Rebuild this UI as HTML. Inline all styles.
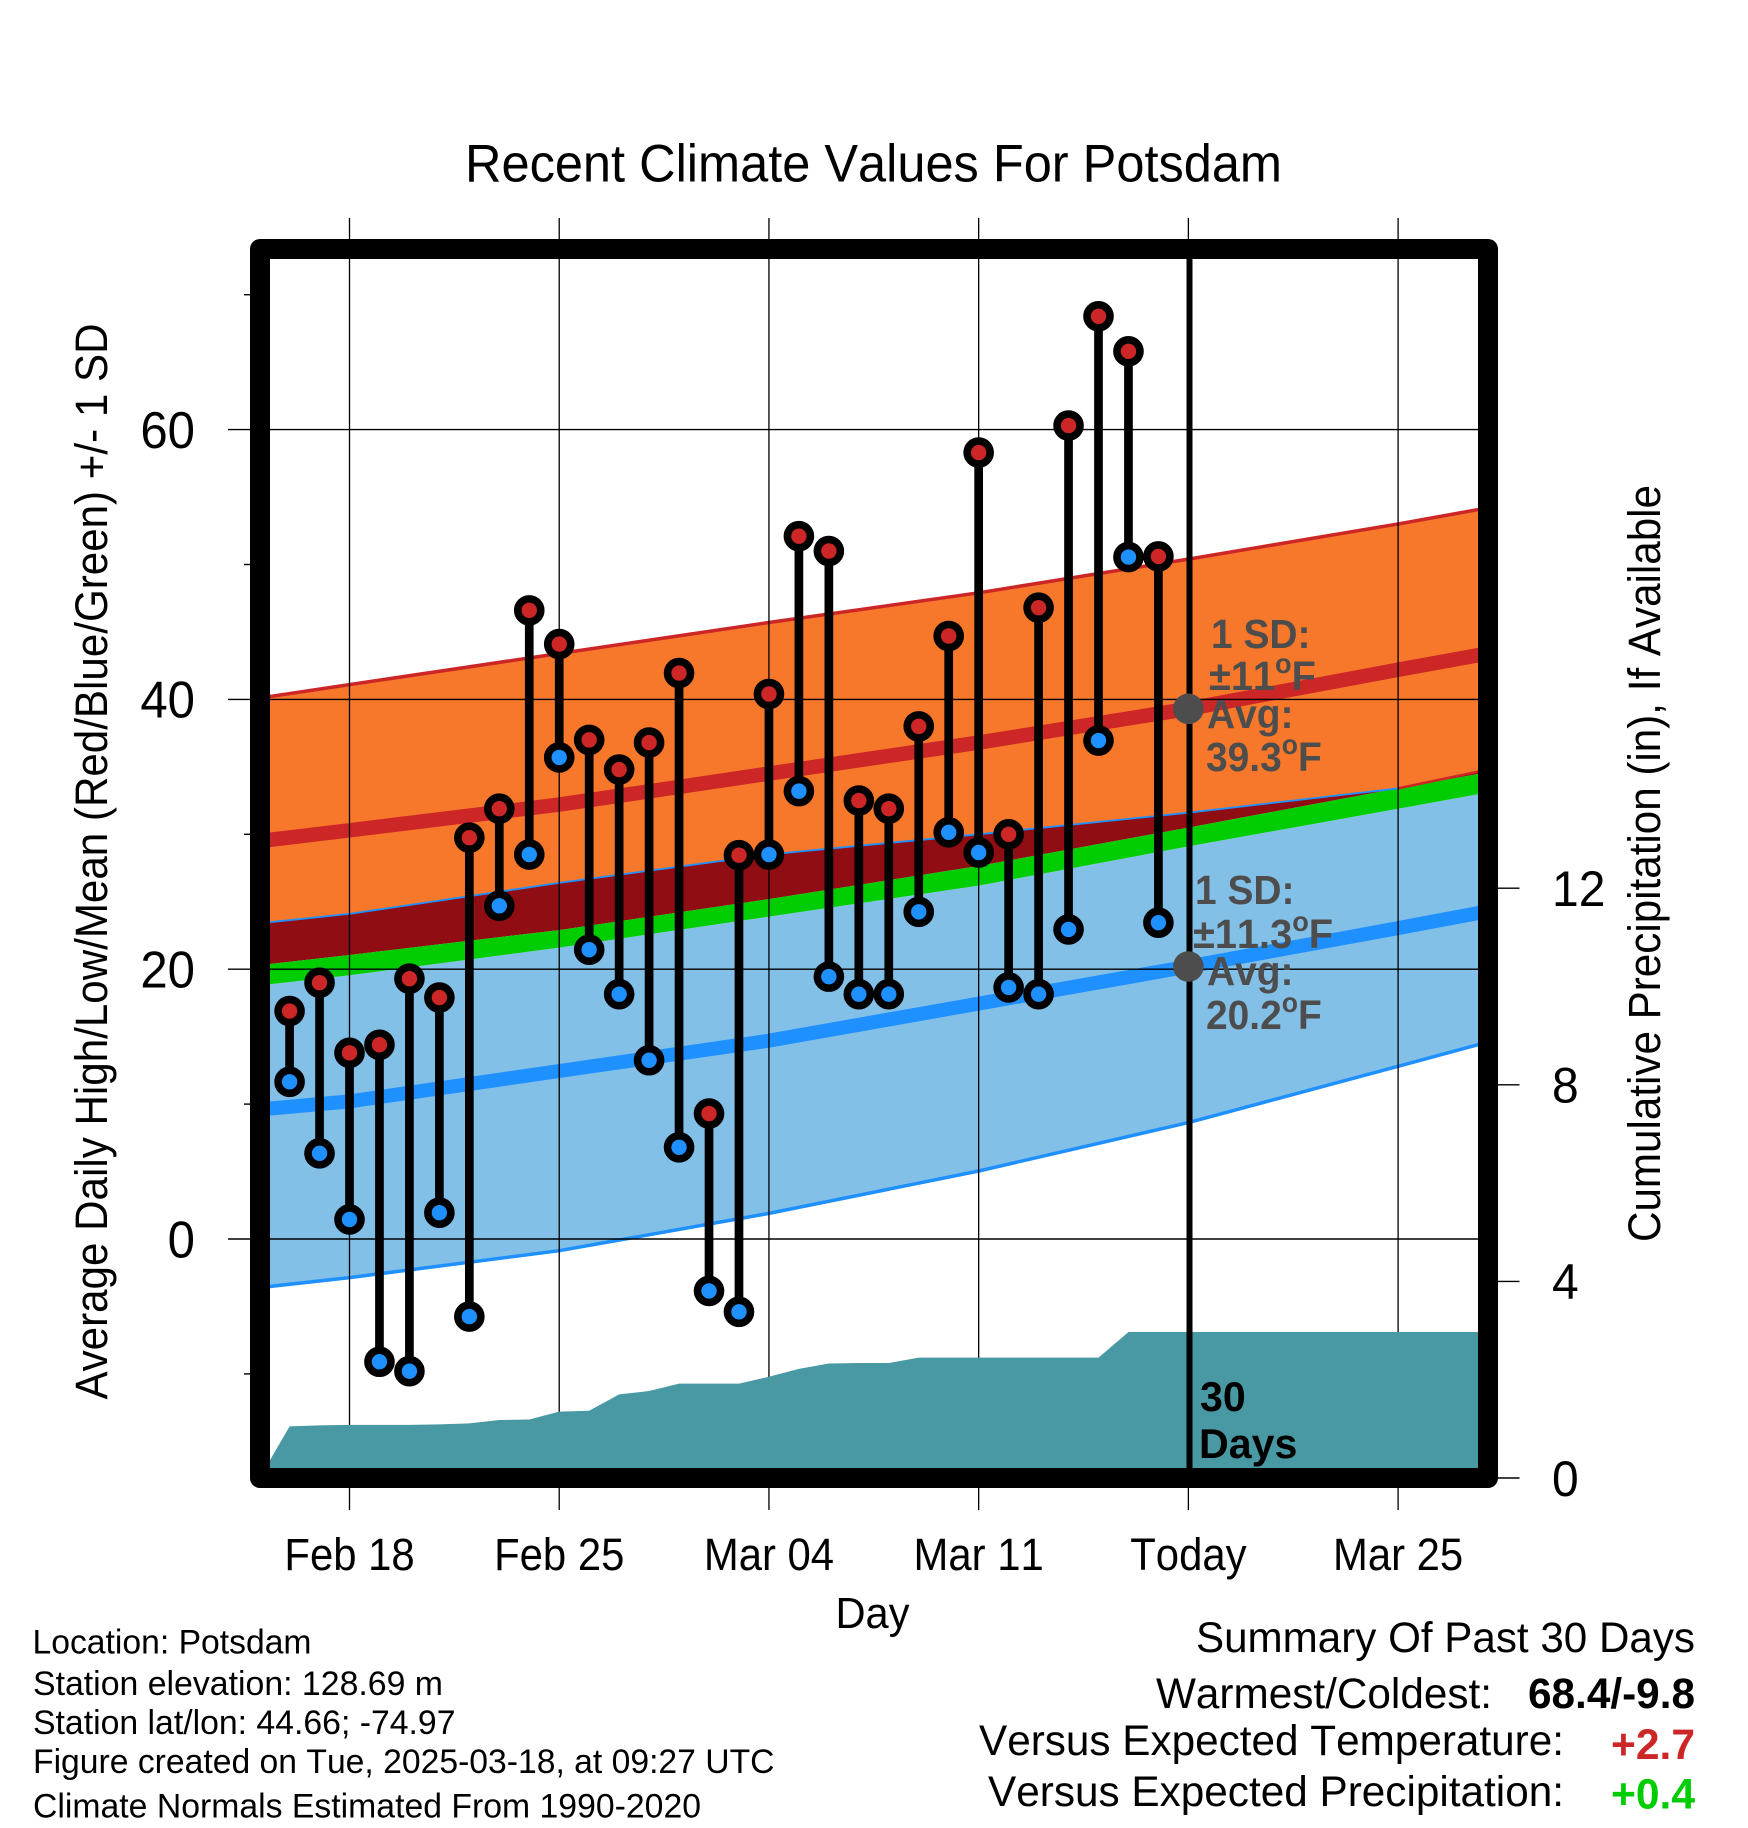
<!DOCTYPE html>
<html lang="en">
<head>
<meta charset="utf-8">
<title>Recent Climate Values For Potsdam</title>
<style>
html,body{margin:0;padding:0;background:#fff;}
svg{display:block;font-family:"Liberation Sans",sans-serif;font-kerning:none;}
</style>
</head>
<body>
<svg id="chart" xmlns="http://www.w3.org/2000/svg" width="1748" height="1828" viewBox="0 0 1748 1828">
  <defs>
    <clipPath id="plot-clip"><rect x="270" y="259" width="1208" height="1209"/></clipPath>
  </defs>
  <rect x="0" y="0" width="1748" height="1828" fill="#ffffff"/>
  <g id="bands" clip-path="url(#plot-clip)"></g>
  <g id="grid"></g>
  <g id="precip" clip-path="url(#plot-clip)"></g>
  <line x1="1189.5" y1="259" x2="1189.5" y2="1468" stroke="#000" stroke-width="6"/>
  <g id="marks"></g>
  <g id="normals"></g>

  <g fill="#4d4d4d" font-weight="bold" font-size="41">
    <text transform="translate(1211,648) scale(.95,1)">1 SD:</text>
    <text transform="translate(1209,690) scale(.97,1)">±11<tspan font-size="28" dy="-17">o</tspan><tspan dy="17">F</tspan></text>
    <text transform="translate(1207,728) scale(.95,1)">Avg:</text>
    <text transform="translate(1206,771) scale(.95,1)">39.3<tspan font-size="28" dy="-17">o</tspan><tspan dy="17">F</tspan></text>
  </g>
  <g fill="#4d4d4d" font-weight="bold" font-size="41">
    <text transform="translate(1195,904) scale(.95,1)">1 SD:</text>
    <text transform="translate(1193,948) scale(.97,1)">±11.3<tspan font-size="28" dy="-17">o</tspan><tspan dy="17">F</tspan></text>
    <text transform="translate(1207,985) scale(.95,1)">Avg:</text>
    <text transform="translate(1206,1029) scale(.95,1)">20.2<tspan font-size="28" dy="-17">o</tspan><tspan dy="17">F</tspan></text>
  </g>
  <text transform="translate(1200,1411) scale(.98,1)" font-size="42" font-weight="bold" fill="#000">30</text>
  <text transform="translate(1199,1458) scale(.98,1)" font-size="42" font-weight="bold" fill="#000">Days</text>

  <rect x="260" y="249" width="1228" height="1229" fill="none" stroke="#000" stroke-width="20" stroke-linejoin="round"/>
  <g id="labels"></g>

  <text x="873.5" y="181.5" font-size="53" text-anchor="middle" textLength="817" lengthAdjust="spacingAndGlyphs">Recent Climate Values For Potsdam</text>
  <text x="872.5" y="1628" font-size="44" text-anchor="middle" textLength="74" lengthAdjust="spacingAndGlyphs">Day</text>
  <text transform="translate(107,861.5) rotate(-90)" font-size="45" text-anchor="middle" textLength="1076" lengthAdjust="spacingAndGlyphs">Average Daily High/Low/Mean (Red/Blue/Green) +/- 1 SD</text>
  <text transform="translate(1660,863.5) rotate(-90)" font-size="45" text-anchor="middle" textLength="757" lengthAdjust="spacingAndGlyphs">Cumulative Precipitation (in), If Available</text>

  <g font-size="34.5" fill="#000">
    <text x="32.5" y="1653.5" textLength="279" lengthAdjust="spacingAndGlyphs">Location: Potsdam</text>
    <text x="33" y="1695" textLength="410" lengthAdjust="spacingAndGlyphs">Station elevation: 128.69 m</text>
    <text x="33" y="1734" textLength="422.5" lengthAdjust="spacingAndGlyphs">Station lat/lon: 44.66; -74.97</text>
    <text x="33" y="1773" textLength="741.5" lengthAdjust="spacingAndGlyphs">Figure created on Tue, 2025-03-18, at 09:27 UTC</text>
    <text x="33" y="1817.5" textLength="668" lengthAdjust="spacingAndGlyphs">Climate Normals Estimated From 1990-2020</text>
  </g>

  <g font-size="43" fill="#000">
    <text x="1196" y="1652" textLength="499" lengthAdjust="spacingAndGlyphs">Summary Of Past 30 Days</text>
    <text x="1156" y="1708" textLength="336" lengthAdjust="spacingAndGlyphs">Warmest/Coldest:</text>
    <text x="1528" y="1708" font-weight="bold" textLength="167" lengthAdjust="spacingAndGlyphs">68.4/-9.8</text>
    <text x="979" y="1755" textLength="585" lengthAdjust="spacingAndGlyphs">Versus Expected Temperature:</text>
    <text x="1611" y="1759" font-weight="bold" fill="#cd2626" textLength="84" lengthAdjust="spacingAndGlyphs">+2.7</text>
    <text x="988" y="1806" textLength="576" lengthAdjust="spacingAndGlyphs">Versus Expected Precipitation:</text>
    <text x="1611" y="1808.5" font-weight="bold" fill="#00cd00" textLength="84" lengthAdjust="spacingAndGlyphs">+0.4</text>
  </g>
</svg>
<script>
// ---- data ----
var days = [-2,-1,0,1,2,3,4,5,6,7,8,9,10,11,12,13,14,15,16,17,18,19,20,21,22,23,24,25,26,27];
var dailyHigh = [16.9,19.0,13.8,14.4,19.3,17.9,29.75,31.9,46.6,44.1,37.0,34.8,36.8,41.95,9.3,28.45,40.4,52.1,51.0,32.5,31.9,38.0,44.7,58.3,30.0,46.8,60.3,68.4,65.8,50.6];
var dailyLow = [11.65,6.35,1.45,-9.1,-9.8,1.95,-5.75,24.7,28.5,35.7,21.45,18.15,13.25,6.8,-3.85,-5.4,28.5,33.2,19.45,18.15,18.15,24.25,30.15,28.65,18.65,18.15,22.95,36.95,50.55,23.45];

var bandDays = [-3,0,7,14,21,28,35,38];
var highUpper = [40.1,41.1,43.4,45.7,47.9,50.4,53.0,54.2];
var highMean = [29.5,30.3,32.2,34.5,36.8,39.3,42.2,43.4];
var orangeLower = [23.4,24.1,26.4,28.5,30.0,31.6,33.4,34.8];
var greenUpper = [20.3,21.05,22.9,25.2,27.65,30.5,33.4,34.6];
var greenLower = [18.8,19.55,21.6,23.9,26.2,29.1,31.9,33.1];
var lowMean = [9.6,10.2,12.45,14.7,17.45,20.2,23.05,24.3];
var lowLower = [-3.6,-2.86,-0.87,1.9,5.04,8.63,12.8,14.6];

var precipDays = [-3,-2,-1,0,1,2,3,4,5,6,7,8,9,10,11,12,13,14,15,16,17,18,19,20,21,22,23,24,25,26,27,28,38];
var precipTotal = [0,1.05,1.07,1.08,1.08,1.08,1.09,1.11,1.18,1.19,1.35,1.37,1.70,1.77,1.92,1.92,1.92,2.06,2.22,2.33,2.34,2.34,2.45,2.45,2.45,2.45,2.45,2.45,2.45,2.97,2.97,2.97,2.97];

var xTickDays = [0,7,14,21,28,35];
var xTickLabels = ['Feb 18','Feb 25','Mar 04','Mar 11','Today','Mar 25'];
var yMajorTicks = [0,20,40,60];
var yMinorTicks = [-10,10,30,50,70];
var precipTicks = [0,4,8,12];
var todayDay = 28;
var todayHighNormal = 39.3;
var todayLowNormal = 20.2;

// ---- axes ----
function xAt(d){ return 349.5 + d * 29.96; }
function yAt(v){ return 1239 - v * 13.49; }
function pAt(v){ return 1478 - v * 49.15; }

var NS = 'http://www.w3.org/2000/svg';
function make(tag, parent){
  var el = document.createElementNS(NS, tag);
  parent.appendChild(el);
  return el;
}
function linePath(xs, ys){
  var d = '';
  for (var i = 0; i < xs.length; i++) {
    d += (i ? 'L' : 'M') + xAt(xs[i]).toFixed(1) + ' ' + yAt(ys[i]).toFixed(1);
  }
  return d;
}
function areaPath(xs, top, bottom){
  var d = linePath(xs, top);
  for (var i = xs.length - 1; i >= 0; i--) {
    d += 'L' + xAt(xs[i]).toFixed(1) + ' ' + yAt(bottom[i]).toFixed(1);
  }
  return d + 'Z';
}

var bands = document.getElementById('bands');
var grid = document.getElementById('grid');
var precip = document.getElementById('precip');
var marks = document.getElementById('marks');
var normals = document.getElementById('normals');
var labels = document.getElementById('labels');

// ---- bands ----
var orange = make('path', bands);


orange.setAttribute('d', areaPath(bandDays, highUpper, orangeLower));
orange.setAttribute('fill', '#f7782b');

var overlap = make('path', bands);


overlap.setAttribute('d', areaPath(bandDays, orangeLower, greenUpper));
overlap.setAttribute('fill', '#8f0d13');

var sky = make('path', bands);


sky.setAttribute('d', areaPath(bandDays, greenLower, lowLower));
sky.setAttribute('fill', '#83c0e8');

var green = make('path', bands);


green.setAttribute('d', areaPath(bandDays, greenUpper, greenLower));
green.setAttribute('fill', '#00cd00');

var highTop = make('path', bands);


highTop.setAttribute('d', linePath(bandDays, highUpper));
highTop.setAttribute('fill', 'none');
highTop.setAttribute('stroke', '#cd2626');
highTop.setAttribute('stroke-width', '3.5');

var highLine = make('path', bands);


highLine.setAttribute('d', linePath(bandDays, highMean));
highLine.setAttribute('fill', 'none');
highLine.setAttribute('stroke', '#cd2626');
highLine.setAttribute('stroke-width', '14.5');

var lowLine = make('path', bands);


lowLine.setAttribute('d', linePath(bandDays, lowMean));
lowLine.setAttribute('fill', 'none');
lowLine.setAttribute('stroke', '#1e90ff');
lowLine.setAttribute('stroke-width', '14');

var lowBottom = make('path', bands);


lowBottom.setAttribute('d', linePath(bandDays, lowLower));
lowBottom.setAttribute('fill', 'none');
lowBottom.setAttribute('stroke', '#1e90ff');
lowBottom.setAttribute('stroke-width', '3.5');

var lowTop = make('path', bands);


lowTop.setAttribute('d', linePath(bandDays.slice(0, 7), orangeLower.slice(0, 7)));
lowTop.setAttribute('fill', 'none');
lowTop.setAttribute('stroke', '#1e90ff');
lowTop.setAttribute('stroke-width', '1.8');

var highBottom = make('path', bands);


highBottom.setAttribute('d', linePath(bandDays.slice(6), orangeLower.slice(6)));
highBottom.setAttribute('fill', 'none');
highBottom.setAttribute('stroke', '#cd2626');
highBottom.setAttribute('stroke-width', '2.5');

// ---- grid and ticks ----
xTickDays.forEach(function(d, i){
  var gl = make('line', grid);
  
  
  gl.setAttribute('x1', xAt(d));
  gl.setAttribute('x2', xAt(d));
  gl.setAttribute('y1', 218);
  gl.setAttribute('y2', 1510);
  gl.setAttribute('stroke', '#000');
  gl.setAttribute('stroke-width', '1.3');

  var t = make('text', labels);
  
  
  t.setAttribute('transform', 'translate(' + xAt(d) + ',1570) scale(.93,1)');
  t.setAttribute('font-size', '45');
  t.setAttribute('text-anchor', 'middle');
  t.textContent = xTickLabels[i];
});

yMajorTicks.forEach(function(v){
  var gl = make('line', grid);
  
  
  gl.setAttribute('x1', 228);
  gl.setAttribute('x2', 1478);
  gl.setAttribute('y1', yAt(v));
  gl.setAttribute('y2', yAt(v));
  gl.setAttribute('stroke', '#000');
  gl.setAttribute('stroke-width', '1.4');

  var t = make('text', labels);
  
  
  t.setAttribute('transform', 'translate(195,' + (yAt(v) + 18.3) + ') scale(.945,1)');
  t.setAttribute('font-size', '52');
  t.setAttribute('text-anchor', 'end');
  t.textContent = String(v);
});

yMinorTicks.forEach(function(v){
  var tk = make('line', grid);
  
  
  tk.setAttribute('x1', 244);
  tk.setAttribute('x2', 260);
  tk.setAttribute('y1', yAt(v));
  tk.setAttribute('y2', yAt(v));
  tk.setAttribute('stroke', '#000');
  tk.setAttribute('stroke-width', '1.4');
});

precipTicks.forEach(function(v){
  var tk = make('line', grid);
  
  
  tk.setAttribute('x1', 1488);
  tk.setAttribute('x2', 1519.5);
  tk.setAttribute('y1', pAt(v));
  tk.setAttribute('y2', pAt(v));
  tk.setAttribute('stroke', '#000');
  tk.setAttribute('stroke-width', '1.4');

  var t = make('text', labels);
  
  
  t.setAttribute('transform', 'translate(1552,' + (pAt(v) + 17.8) + ') scale(.96,1)');
  t.setAttribute('font-size', '50');
  t.textContent = String(v);
});

// ---- precipitation ----
var precipD = '';
precipDays.forEach(function(d, i){
  precipD += (i ? 'L' : 'M') + xAt(d).toFixed(1) + ' ' + pAt(precipTotal[i]).toFixed(1);
});
precipD += 'L' + xAt(precipDays[precipDays.length - 1]).toFixed(1) + ' ' + pAt(0) + 'L' + xAt(precipDays[0]).toFixed(1) + ' ' + pAt(0) + 'Z';
var precipArea = make('path', precip);


precipArea.setAttribute('d', precipD);
precipArea.setAttribute('fill', '#4899a4');

// ---- daily marks ----
days.forEach(function(d, i){
  var cx = xAt(d);
  var stem = make('line', marks);
  
  
  stem.setAttribute('x1', cx);
  stem.setAttribute('x2', cx);
  stem.setAttribute('y1', yAt(dailyHigh[i]));
  stem.setAttribute('y2', yAt(dailyLow[i]));
  stem.setAttribute('stroke', '#000');
  stem.setAttribute('stroke-width', '8.7');

  var low = make('circle', marks);
  
  
  low.setAttribute('cx', cx);
  low.setAttribute('cy', yAt(dailyLow[i]));
  low.setAttribute('r', '11.5');
  low.setAttribute('fill', '#1e90ff');
  low.setAttribute('stroke', '#000');
  low.setAttribute('stroke-width', '7.6');

  var high = make('circle', marks);
  
  
  high.setAttribute('cx', cx);
  high.setAttribute('cy', yAt(dailyHigh[i]));
  high.setAttribute('r', '11.5');
  high.setAttribute('fill', '#cd2626');
  high.setAttribute('stroke', '#000');
  high.setAttribute('stroke-width', '7.6');
});

// ---- today's normals ----
var dotHigh = make('circle', normals);


dotHigh.setAttribute('cx', xAt(todayDay));
dotHigh.setAttribute('cy', yAt(todayHighNormal));
dotHigh.setAttribute('r', '15.3');
dotHigh.setAttribute('fill', '#4d4d4d');

var dotLow = make('circle', normals);


dotLow.setAttribute('cx', xAt(todayDay));
dotLow.setAttribute('cy', yAt(todayLowNormal));
dotLow.setAttribute('r', '15.3');
dotLow.setAttribute('fill', '#4d4d4d');
</script>
</body>
</html>
